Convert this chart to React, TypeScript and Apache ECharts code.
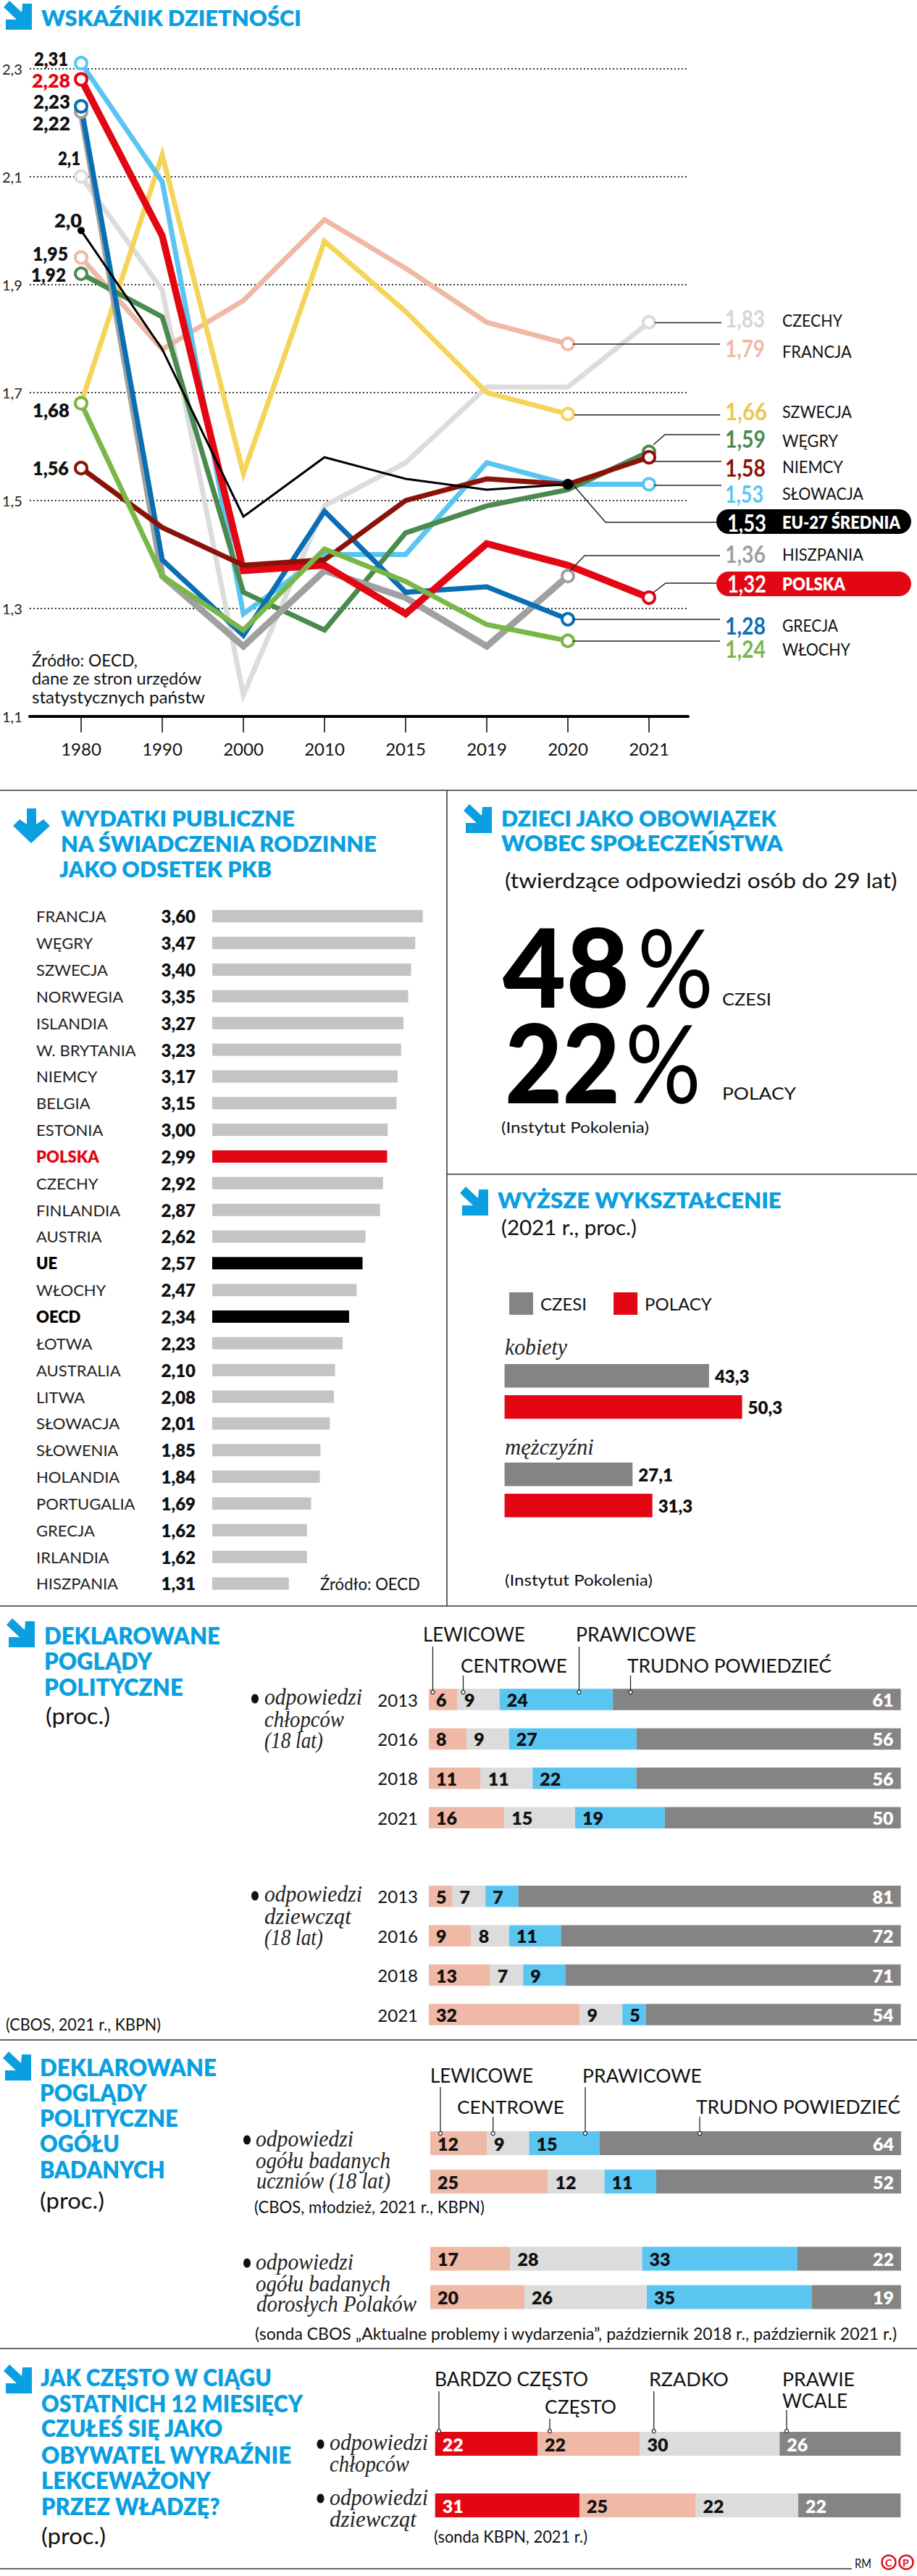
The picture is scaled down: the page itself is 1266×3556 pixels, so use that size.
import React, { useEffect, useRef } from "react";
import * as echarts from "echarts";

const W = 1266;
const H = 3556;
const BLUE = "#0a9fe0";
const RED = "#e30613";
const SALMON = "#efb9a6";
const LIGHT = "#dcdcdc";
const GRAY = "#848484";
const SKY = "#5bc5f2";

// ---- Fertility rate ----
const fertilityYears = ["1980", "1990", "2000", "2010", "2015", "2019", "2020", "2021"];
const fertilityTicks = [1.1, 1.3, 1.5, 1.7, 1.9, 2.1, 2.3];
const czechy = [2.1, 1.89, 1.14, 1.49, 1.57, 1.71, 1.71, 1.83];
const francja = [1.95, 1.78, 1.87, 2.02, 1.93, 1.83, 1.79];
const szwecja = [1.68, 2.14, 1.55, 1.98, 1.85, 1.7, 1.66];
const slowacja = [2.31, 2.09, 1.29, 1.4, 1.4, 1.57, 1.53, 1.53];
const wegry = [1.92, 1.84, 1.33, 1.26, 1.44, 1.49, 1.52, 1.59];
const hiszpania = [2.22, 1.36, 1.23, 1.37, 1.32, 1.23, 1.36];
const grecja = [2.23, 1.39, 1.25, 1.48, 1.33, 1.34, 1.28];
const polska = [2.28, 1.99, 1.37, 1.38, 1.29, 1.42, 1.38, 1.32];
const niemcy = [1.56, 1.45, 1.38, 1.39, 1.5, 1.54, 1.53, 1.58];
const wlochy = [1.68, 1.36, 1.26, 1.41, 1.35, 1.27, 1.24];
const eu27 = [2.0, 1.78, 1.47, 1.58, 1.54, 1.52, 1.53];

// ---- Public spending ----
const spendingNames = ["FRANCJA", "WĘGRY", "SZWECJA", "NORWEGIA", "ISLANDIA", "W. BRYTANIA", "NIEMCY", "BELGIA", "ESTONIA", "POLSKA", "CZECHY", "FINLANDIA", "AUSTRIA", "UE", "WŁOCHY", "OECD", "ŁOTWA", "AUSTRALIA", "LITWA", "SŁOWACJA", "SŁOWENIA", "HOLANDIA", "PORTUGALIA", "GRECJA", "IRLANDIA", "HISZPANIA"];
const spendingValues = [3.6, 3.47, 3.4, 3.35, 3.27, 3.23, 3.17, 3.15, 3.0, 2.99, 2.92, 2.87, 2.62, 2.57, 2.47, 2.34, 2.23, 2.1, 2.08, 2.01, 1.85, 1.84, 1.69, 1.62, 1.62, 1.31];

// ---- Higher education ----
const eduGroups = ["kobiety", "mężczyźni"];
const eduCzesi = [43.3, 27.1];
const eduPolacy = [50.3, 31.3];

// ---- Political views ----
const viewNames = ["LEWICOWE", "CENTROWE", "PRAWICOWE", "TRUDNO POWIEDZIEĆ"];
const surveyYears = ["2013", "2016", "2018", "2021"];
const boysLeft = [6, 8, 11, 16];
const boysCentre = [9, 9, 11, 15];
const boysRight = [24, 27, 22, 19];
const boysHard = [61, 56, 56, 50];
const girlsLeft = [5, 9, 13, 32];
const girlsCentre = [7, 8, 7, 9];
const girlsRight = [7, 11, 9, 5];
const girlsHard = [81, 72, 71, 54];
const pupilRows = ["chłopcy i dziewczęta A", "chłopcy i dziewczęta B"];
const pupilsLeft = [12, 25];
const pupilsCentre = [9, 12];
const pupilsRight = [15, 11];
const pupilsHard = [64, 52];
const adultRows = ["2018", "2021"];
const adultsLeft = [17, 20];
const adultsCentre = [28, 26];
const adultsRight = [33, 35];
const adultsHard = [22, 19];

// ---- Feeling ignored ----
const oftenNames = ["BARDZO CZĘSTO", "CZĘSTO", "RZADKO", "PRAWIE WCALE"];
const oftenRows = ["chłopców", "dziewcząt"];
const veryOften = [22, 31];
const often = [22, 25];
const rarely = [30, 22];
const almostNever = [26, 22];

const arrowPts = [[0, 9], [8, 0], [25, 16], [26, 4], [39, 4], [39, 40], [3, 40], [3, 26], [18, 26]];
const downPts = [[37, 1116], [50, 1116], [50, 1138], [60, 1131], [69, 1140], [43, 1164], [18, 1140], [27, 1131], [37, 1138]];

const comma = (v: number, d: number) => v.toFixed(d).replace(".", ",");

function buildOption() {
  const ctx = document.createElement("canvas").getContext("2d") as CanvasRenderingContext2D;
  const g: any[] = [];

  // x0..x1 = target width; cy = vertical centre
  const t = (text: string, x0: number, x1: number | null, cy: number, o: any = {}) => {
    const size = o.size ?? 24;
    const weight = o.weight ?? 400;
    const family = o.family ?? "Lato";
    const italic = o.italic ? "italic" : "normal";
    ctx.font = `${italic} ${weight} ${size}px "${family}"`;
    const scale = x1 == null ? 1 : (x1 - x0) / ctx.measureText(text).width;
    g.push({
      type: "text", x: x0, y: cy, scaleX: scale, z: 20, silent: true,
      style: { text, x: 0, y: 0, fill: o.color ?? "#111", fontSize: size, fontWeight: weight, fontFamily: family, fontStyle: italic, align: "left", verticalAlign: "middle" },
    });
  };
  const blue = (text: string, x0: number, x1: number | null, cy: number, size = 31) =>
    t(text, x0, x1, cy, { size, weight: 800, color: BLUE });
  const it = (text: string, x0: number, x1: number, cy: number) =>
    t(text, x0, x1, cy, { family: "Liberation Serif", italic: true, size: 31, color: "#222" });
  const bullet = (cx: number, cy: number) =>
    g.push({ type: "ellipse", z: 20, silent: true, shape: { cx, cy, rx: 5, ry: 6.5 }, style: { fill: "#111" } });
  const arrow = (x: number, y: number) =>
    g.push({ type: "polygon", z: 20, silent: true, shape: { points: arrowPts.map(([a, b]) => [x + a, y + b]) }, style: { fill: BLUE } });
  const hr = (x0: number, x1: number, y: number, w = 1.5, c = "#333") =>
    g.push({ type: "line", z: 15, silent: true, shape: { x1: x0, y1: y, x2: x1, y2: y }, style: { stroke: c, lineWidth: w } });
  const conn = (points: number[][]) =>
    g.push({ type: "polyline", z: 15, silent: true, shape: { points }, style: { stroke: "#222", lineWidth: 1.5, fill: null } });
  const leader = (x: number, y0: number, y1: number) => {
    g.push({ type: "line", z: 21, silent: true, shape: { x1: x, y1: y0, x2: x, y2: y1 }, style: { stroke: "#222", lineWidth: 1.3 } });
    g.push({ type: "circle", z: 21, silent: true, shape: { cx: x, cy: y1, r: 2.5 }, style: { fill: "#fff", stroke: "#222", lineWidth: 1.2 } });
  };

  // ---- Section 1 texts
  arrow(5, 1);
  blue("WSKAŹNIK DZIETNOŚCI", 57, 416, 24, 31);
  const bold = { size: 26, weight: 800, color: "#111" };
  t("2,31", 47, 94, 81, bold);
  t("2,28", 44, 97, 111, { ...bold, color: RED });
  t("2,23", 46, 97, 140, bold);
  t("2,22", 45, 97, 170, bold);
  t("2,1", 80, 111, 218, bold);
  t("2,0", 75, 113, 304, bold);
  t("1,95", 45, 94, 350, bold);
  t("1,92", 43, 91, 379, bold);
  t("1,68", 45, 96, 566, bold);
  t("1,56", 45, 95, 646, bold);
  t("Źródło: OECD,", 44, 190, 911, { size: 23 });
  t("dane ze stron urzędów", 44, 278, 936, { size: 23 });
  t("statystycznych państw", 44, 283, 962, { size: 23 });

  const CON = [
    [[904, 445.6], [996, 445.6]],
    [[791, 475], [994, 475]],
    [[793, 572.7], [994, 572.7]],
    [[902, 614], [918, 600], [994, 600]],
    [[902, 637], [996, 637]],
    [[903, 670], [996, 670]],
    [[791, 669], [836, 721], [989, 721]],
    [[787, 788], [807, 767], [994, 767]],
    [[902, 818], [919, 805], [989, 805]],
    [[791, 855], [994, 855]],
    [[791, 885], [994, 885]],
  ];
  CON.forEach(conn);
  g.push({ type: "rect", z: 16, silent: true, shape: { x: 989, y: 703, width: 269, height: 34, r: 17 }, style: { fill: "#000" } });
  g.push({ type: "rect", z: 16, silent: true, shape: { x: 989, y: 789, width: 269, height: 34, r: 17 }, style: { fill: RED } });
  const num = (s: string, x1: number, cy: number, color: string) =>
    t(s, 1001, x1, cy, { size: 33, weight: 700, color });
  const nm = (s: string, x1: number, cy: number) => t(s, 1080, x1, cy, { size: 24 });
  num("1,83", 1056, 440, "#d6d6d6"); nm("CZECHY", 1163, 442);
  num("1,79", 1056, 481, "#efb9a6"); nm("FRANCJA", 1176, 485);
  num("1,66", 1059, 567, "#e8c850"); nm("SZWECJA", 1176, 568);
  num("1,59", 1057, 606, "#4a8a4e"); nm("WĘGRY", 1157, 608);
  num("1,58", 1057, 646, "#8b1209"); nm("NIEMCY", 1164, 644);
  num("1,53", 1054, 681, SKY); nm("SŁOWACJA", 1192, 681);
  t("1,53", 1004, 1058, 721, { size: 33, weight: 700, color: "#fff" });
  t("EU-27 ŚREDNIA", 1080, 1243, 721, { size: 24, weight: 800, color: "#fff" });
  num("1,36", 1057, 765, "#a0a0a0"); nm("HISZPANIA", 1192, 765);
  t("1,32", 1004, 1058, 805, { size: 33, weight: 700, color: "#fff" });
  t("POLSKA", 1080, 1167, 806, { size: 24, weight: 800, color: "#fff" });
  num("1,28", 1057, 864, "#0a6eb4"); nm("GRECJA", 1157, 863);
  num("1,24", 1057, 896, "#7ab648"); nm("WŁOCHY", 1174, 896);

  // ---- Section 2 texts
  hr(0, W, 1091);
  hr(0, W, 2217);
  g.push({ type: "line", z: 15, silent: true, shape: { x1: 617, y1: 1091, x2: 617, y2: 2217 }, style: { stroke: "#333", lineWidth: 1.5 } });
  g.push({ type: "polygon", z: 20, silent: true, shape: { points: downPts }, style: { fill: BLUE } });
  blue("WYDATKI PUBLICZNE", 84, 407, 1129, 31);
  blue("NA ŚWIADCZENIA RODZINNE", 84, 522, 1164, 31);
  blue("JAKO ODSETEK PKB", 82, 375, 1199, 31);
  t("Źródło: OECD", 442, 580, 2186, { size: 23 });

  // ---- Section 3 texts
  arrow(640, 1110);
  blue("DZIECI JAKO OBOWIĄZEK", 692, 1073, 1129, 31);
  blue("WOBEC SPOŁECZEŃSTWA", 692, 1081, 1163, 31);
  t("(twierdzące odpowiedzi osób do 29 lat)", 697, 1239, 1215, { size: 28 });
  t("48", 694, 869, 1333, { size: 150, weight: 900, color: "#000" });
  t("%", 880, 985, 1333, { size: 150, weight: 400, color: "#000" });
  t("22", 697, 856, 1465, { size: 150, weight: 900, color: "#000" });
  t("%", 863, 968, 1465, { size: 150, weight: 400, color: "#000" });
  t("CZESI", 997, 1065, 1379, { size: 24 });
  t("POLACY", 997, 1099, 1508, { size: 24 });
  t("(Instytut Pokolenia)", 692, 896, 1555, { size: 22 });
  hr(617, W, 1621);
  arrow(635, 1638);
  blue("WYŻSZE WYKSZTAŁCENIE", 687, 1079, 1656, 31);
  t("(2021 r., proc.)", 692, 879, 1694, { size: 28 });
  it("kobiety", 697, 783, 1860);
  it("mężczyźni", 697, 820, 1997);
  t("(Instytut Pokolenia)", 697, 901, 2180, { size: 22 });

  // ---- Section 4 texts
  arrow(9, 2234);
  blue("DEKLAROWANE", 61, 304, 2258, 32);
  blue("POGLĄDY", 61, 210, 2293, 32);
  blue("POLITYCZNE", 61, 253, 2329, 32);
  t("(proc.)", 63, 152, 2368, { size: 31 });
  t("(CBOS, 2021 r., KBPN)", 8, 222, 2794, { size: 24 });
  bullet(352, 2345);
  it("odpowiedzi", 365, 500, 2343); it("chłopców", 365, 475, 2373); it("(18 lat)", 365, 446, 2402);
  bullet(352, 2617);
  it("odpowiedzi", 365, 500, 2615); it("dziewcząt", 365, 485, 2645); it("(18 lat)", 365, 446, 2674);
  const lg = { size: 26 };
  t(viewNames[0], 584, 725, 2256, lg);
  t(viewNames[1], 636, 783, 2299, lg);
  t(viewNames[2], 795, 961, 2256, lg);
  t(viewNames[3], 866, 1148, 2299, lg);
  leader(597.5, 2273, 2336); leader(639.5, 2313, 2336); leader(799.5, 2273, 2336); leader(870.5, 2313, 2336);
  hr(0, W, 2816);

  // ---- Section 5 texts
  arrow(4, 2832);
  blue("DEKLAROWANE", 55, 299, 2854, 32);
  blue("POGLĄDY", 55, 203, 2889, 32);
  blue("POLITYCZNE", 55, 246, 2924, 32);
  blue("OGÓŁU", 55, 165, 2959, 32);
  blue("BADANYCH", 55, 228, 2995, 32);
  t("(proc.)", 55, 144, 3037, { size: 31 });
  bullet(341, 2954);
  it("odpowiedzi", 353, 488, 2953); it("ogółu badanych", 353, 539, 2982); it("uczniów (18 lat)", 354, 539, 3010);
  t("(CBOS, młodzież, 2021 r., KBPN)", 351, 669, 3046, { size: 24 });
  bullet(341, 3124);
  it("odpowiedzi", 353, 488, 3123); it("ogółu badanych", 353, 539, 3152); it("dorosłych Polaków", 354, 575, 3180);
  t("(sonda CBOS „Aktualne problemy i wydarzenia”, październik 2018 r., październik 2021 r.)", 352, 1239, 3221, { size: 24 });
  t(viewNames[0], 594, 736, 2865, lg);
  t(viewNames[1], 631, 779, 2908, lg);
  t(viewNames[2], 804, 969, 2865, lg);
  t(viewNames[3], 961, 1243, 2908, lg);
  leader(608, 2881, 2945); leader(680.7, 2922, 2945); leader(808, 2881, 2945); leader(966, 2922, 2945);
  hr(0, W, 3242);

  // ---- Section 6 texts
  arrow(5, 3264);
  blue("JAK CZĘSTO W CIĄGU", 56, 375, 3282, 32);
  blue("OSTATNICH 12 MIESIĘCY", 57, 418, 3318, 32);
  blue("CZUŁEŚ SIĘ JAKO", 57, 308, 3352, 32);
  blue("OBYWATEL WYRAŹNIE", 57, 403, 3389, 32);
  blue("LEKCEWAŻONY", 57, 291, 3424, 32);
  blue("PRZEZ WŁADZĘ?", 57, 304, 3460, 32);
  t("(proc.)", 57, 146, 3500, { size: 31 });
  bullet(442.5, 3374);
  it("odpowiedzi", 455, 591, 3372); it("chłopców", 455, 565, 3401);
  bullet(442.5, 3449);
  it("odpowiedzi", 455, 591, 3448); it("dziewcząt", 455, 575, 3477);
  t("(sonda KBPN, 2021 r.)", 599, 811, 3501, { size: 24 });
  t(oftenNames[0], 600, 812, 3284, lg);
  t(oftenNames[1], 752, 851, 3322, lg);
  t(oftenNames[2], 896, 1006, 3284, lg);
  t("PRAWIE", 1080, 1180, 3284, lg);
  t("WCALE", 1080, 1170, 3314, lg);
  leader(606, 3301, 3356); leader(759, 3339, 3356); leader(902.7, 3301, 3356); leader(1086, 3327, 3356);
  hr(0, 1176, 3546);
  t("RM", 1180, 1203, 3538, { size: 18 });
  [[1227, "C"], [1251, "P"]].forEach(([cx, l]: any) => {
    g.push({ type: "circle", z: 20, silent: true, shape: { cx, cy: 3537, r: 9.5 }, style: { fill: "#fff", stroke: RED, lineWidth: 2.5 } });
    t(l, cx - 5, null, 3537, { size: 14, weight: 700, color: RED });
  });

  // ---- Axes & series
  const grid: any[] = [];
  const xAxis: any[] = [];
  const yAxis: any[] = [];
  const series: any[] = [];
  const hiddenX = (gridIndex: number, max: number) => ({ type: "value", gridIndex, min: 0, max, show: false });

  // grid 0: frame with dotted value lines and the heavy base line
  grid.push({ left: 38, width: 912, top: 94.6, height: 894.4 });
  xAxis.push({ type: "value", gridIndex: 0, min: 0, max: 1, axisLine: { show: true, onZero: false, lineStyle: { color: "#000", width: 4 } }, axisTick: { show: false }, axisLabel: { show: false }, splitLine: { show: false } });
  yAxis.push({
    type: "value", gridIndex: 0, min: 1.1, max: 2.3,
    axisLine: { show: false },
    axisTick: { show: false, customValues: fertilityTicks },
    axisLabel: { customValues: fertilityTicks, formatter: (v: number) => comma(v, 1), align: "left", margin: 38, fontFamily: "Lato", fontSize: 20, color: "#222", padding: [16, 0, 0, 0] },
    splitLine: { show: true, lineStyle: { type: [1.8, 3.2], color: "#222", width: 1.8 } },
  });

  // grid 1: the lines
  grid.push({ left: 56, width: 896, top: 94.6, height: 894.4 });
  xAxis.push({
    type: "category", gridIndex: 1, data: fertilityYears, boundaryGap: true,
    axisLine: { show: false },
    axisTick: { show: true, alignWithLabel: true, length: 22, lineStyle: { color: "#000", width: 1.5 } },
    axisLabel: { fontFamily: "Lato", fontSize: 24, color: "#111", margin: 32, interval: 0 },
  });
  yAxis.push({ type: "value", gridIndex: 1, min: 1.1, max: 2.3, show: false });

  const lineS = (name: string, data: number[], color: string, width = 7) => {
    series.push({
      type: "line", name, xAxisIndex: 1, yAxisIndex: 1, clip: false, showAllSymbol: true,
      symbol: "circle", symbolSize: 16, z: 3,
      lineStyle: { color, width, join: "miter", cap: "butt" },
      itemStyle: { color: "#fff", borderColor: color, borderWidth: 4 },
      data: data.map((value, i) => ({ value, symbol: i === 0 || i === data.length - 1 ? "circle" : "none" })),
    });
  };
  lineS("Czechy", czechy, LIGHT);
  lineS("Francja", francja, SALMON);
  lineS("Szwecja", szwecja, "#f5d45a");
  lineS("Słowacja", slowacja, SKY);
  lineS("Węgry", wegry, "#4a8a4e");
  lineS("Hiszpania", hiszpania, "#a0a0a0", 9);
  lineS("Grecja", grecja, "#0a6eb4");
  lineS("Polska", polska, RED, 9.5);
  lineS("Niemcy", niemcy, "#8b1209");
  lineS("Włochy", wlochy, "#7ab648");
  series.push({
    type: "line", name: "EU-27 średnia", xAxisIndex: 1, yAxisIndex: 1, clip: false, showAllSymbol: true,
    symbol: "circle", z: 3, lineStyle: { color: "#000", width: 3, join: "miter" },
    itemStyle: { color: "#000" },
    data: eu27.map((value, i) => ({ value, symbol: i === 0 || i === eu27.length - 1 ? "circle" : "none", symbolSize: i === 0 ? 10 : 15 })),
  });

  // grid 2: public spending
  grid.push({ left: 293, width: 290.7, top: 1246.4, height: 958 });
  xAxis.push(hiddenX(2, 3.6));
  const barColor = (n: string) => (n === "POLSKA" ? RED : n === "UE" || n === "OECD" ? "#000" : "#c4c4c4");
  yAxis.push({
    type: "category", gridIndex: 2, inverse: true, data: spendingNames,
    axisLine: { show: false }, axisTick: { show: false },
    axisLabel: {
      interval: 0, align: "left", margin: 243, fontFamily: "Lato", fontSize: 22, color: "#222",
      formatter: (v: string) => (v === "POLSKA" ? `{r|${v}}` : v === "UE" || v === "OECD" ? `{b|${v}}` : v),
      rich: {
        r: { color: RED, fontWeight: 800, fontFamily: "Lato", fontSize: 22 },
        b: { color: "#000", fontWeight: 800, fontFamily: "Lato", fontSize: 22 },
      },
    },
  });
  series.push({
    type: "bar", name: "Wydatki", xAxisIndex: 2, yAxisIndex: 2, barWidth: 17,
    data: spendingValues.map((value, i) => ({ value, itemStyle: { color: barColor(spendingNames[i]) } })),
    label: { show: true, position: "left", distance: 23, fontFamily: "Lato", fontWeight: 800, fontSize: 24, color: "#111", formatter: (p: any) => comma(p.value, 2) },
  });

  // grid 3: education
  grid.push({ left: 696.6, width: 391.2, top: 1852.75, height: 272 });
  xAxis.push(hiddenX(3, 60));
  yAxis.push({ type: "category", gridIndex: 3, inverse: true, show: false, data: eduGroups });
  const eduLabel = { show: true, position: "right", distance: 8, fontFamily: "Lato", fontWeight: 800, fontSize: 24, color: "#111", formatter: (p: any) => comma(p.value, 1) };
  series.push({ type: "bar", name: "CZESI", xAxisIndex: 3, yAxisIndex: 3, barWidth: 32.5, barGap: "32%", data: eduCzesi, itemStyle: { color: GRAY }, label: eduLabel });
  series.push({ type: "bar", name: "POLACY", xAxisIndex: 3, yAxisIndex: 3, barWidth: 32.5, barGap: "32%", data: eduPolacy, itemStyle: { color: RED }, label: eduLabel });

  // stacked panels
  const stacked = (rows: string[], cols: number[][], names: string[], colors: string[], labelColors: string[], left: number, width: number, top: number, band: number, barH: number, showY: boolean) => {
    const idx = grid.length;
    grid.push({ left, width, top, height: band * rows.length });
    xAxis.push(hiddenX(idx, 100));
    yAxis.push({
      type: "category", gridIndex: idx, inverse: true, data: rows, show: showY,
      axisLine: { show: false }, axisTick: { show: false },
      axisLabel: { margin: 15, fontFamily: "Lato", fontSize: 24, color: "#111", interval: 0 },
    });
    cols.forEach((data, i) => {
      const rightAligned = labelColors[i] === "#fff" && names === viewNames;
      series.push({
        type: "bar", name: names[i], stack: "s" + idx, xAxisIndex: idx, yAxisIndex: idx, barWidth: barH, data,
        itemStyle: { color: colors[i] },
        label: { show: true, position: rightAligned ? "insideRight" : "insideLeft", distance: 10, fontFamily: "Lato", fontWeight: 800, fontSize: 25, color: labelColors[i] },
      });
    });
  };
  const viewColors = [SALMON, LIGHT, SKY, GRAY];
  const viewLabels = ["#111", "#111", "#111", "#fff"];
  stacked(surveyYears, [boysLeft, boysCentre, boysRight, boysHard], viewNames, viewColors, viewLabels, 592, 651.6, 2318.8, 54.4, 29.5, true);
  stacked(surveyYears, [girlsLeft, girlsCentre, girlsRight, girlsHard], viewNames, viewColors, viewLabels, 592, 651.6, 2590.6, 54.4, 29.5, true);
  stacked(pupilRows, [pupilsLeft, pupilsCentre, pupilsRight, pupilsHard], viewNames, viewColors, viewLabels, 594, 650, 2932, 53, 33, false);
  stacked(adultRows, [adultsLeft, adultsCentre, adultsRight, adultsHard], viewNames, viewColors, viewLabels, 594, 650, 3091.5, 53, 33, false);
  stacked(oftenRows, [veryOften, often, rarely, almostNever], oftenNames, [RED, SALMON, LIGHT, GRAY], ["#fff", "#111", "#111", "#fff"], 600.7, 642.7, 3331, 85, 33, false);

  return {
    animation: false,
    backgroundColor: "#fff",
    grid, xAxis, yAxis, series,
    legend: [{
      data: ["CZESI", "POLACY"], left: 698, top: 1779, itemWidth: 33, itemHeight: 31, itemGap: 37, icon: "rect",
      selectedMode: false,
      textStyle: { fontFamily: "Lato", fontSize: 24, color: "#111", padding: [0, 0, 0, 5] },
    }],
    graphic: { elements: g },
  };
}

export default function App() {
  const ref = useRef<HTMLDivElement>(null);
  useEffect(() => {
    document.body.style.margin = "0";
    const chart = echarts.init(ref.current as HTMLDivElement, undefined, { renderer: "svg" });
    chart.setOption(buildOption() as any);
    return () => chart.dispose();
  }, []);
  return <div ref={ref} style={{ position: "absolute", left: 0, top: 0, width: W, height: H }} />;
}
